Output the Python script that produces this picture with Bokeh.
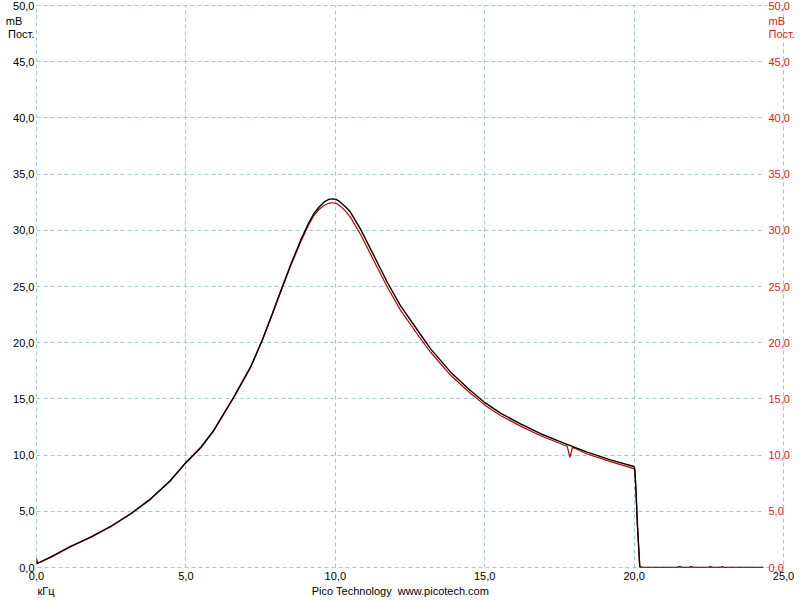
from bokeh.plotting import figure
from bokeh.models import LinearAxis, FixedTicker, BoxAnnotation, Range1d
from bokeh.embed import file_html
from bokeh.resources import INLINE

# ---- data ----
x_ticks = [0, 5, 10, 15, 20, 25]
x_tick_labels = ["0,0", "5,0", "10,0", "15,0", "20,0", "25,0"]
y_ticks = [0, 5, 10, 15, 20, 25, 30, 35, 40, 45, 50]
y_tick_labels = ["0,0", "5,0", "10,0", "15,0", "20,0", "25,0", "30,0", "35,0", "40,0", "45,0", "50,0"]

# unit captions under the top tick labels (placed as extra ticks of the value axes)
unit_ticks = [48.6, 47.5]
unit_labels = ["mB", "Пост."]
# caption row under the frequency axis
footer_ticks = [0.32, 12.18]
footer_labels = ["кГц", "Pico Technology\u00a0\u00a0www.picotech.com"]

# channel A (black): kHz / mV
freq_a = [0.0, 0.02, 0.1, 0.47, 1.14, 1.81, 2.48, 3.15, 3.82, 4.48, 5.0, 5.5, 5.93, 6.6,
          7.16, 7.55, 7.89, 8.22, 8.5, 8.84, 9.1, 9.28, 9.45, 9.62, 9.78, 9.9, 10.03,
          10.17, 10.34, 10.51, 10.84, 11.29, 11.74, 12.18, 12.8, 13.19, 13.86, 14.52,
          15.03, 15.53, 16.2, 16.87, 17.65, 18.43, 19.21, 19.99, 20.02, 20.06, 20.11,
          20.19, 20.3, 24.33]
level_a = [0.8, 0.38, 0.45, 0.92, 1.87, 2.7, 3.65, 4.78, 6.11, 7.74, 9.35, 10.7, 12.19, 15.15,
           17.82, 20.2, 22.57, 24.94, 26.9, 29.1, 30.6, 31.47, 32.05, 32.5, 32.75, 32.8, 32.75,
           32.5, 32.1, 31.6, 30.13, 27.76, 25.38, 23.3, 20.93, 19.45, 17.38, 15.75,
           14.62, 13.73, 12.78, 11.9, 11.06, 10.26, 9.58, 8.99, 8.8, 7.1, 3.9,
           0.05, 0.0, 0.0]

# channel B (red)
freq_b = [0.0, 0.02, 0.1, 0.47, 1.14, 1.81, 2.48, 3.15, 3.82, 4.48, 5.0, 5.5, 5.93, 6.6,
          7.16, 7.55, 7.89, 8.22, 8.5, 8.84, 9.1, 9.28, 9.45, 9.62, 9.78, 9.9, 10.03,
          10.17, 10.34, 10.51, 10.84, 11.29, 11.74, 12.18, 12.8, 13.19, 13.86, 14.52,
          15.03, 15.53, 16.2, 16.87, 17.65, 17.76, 17.85, 17.94, 18.43, 19.21, 19.99,
          20.02, 20.06, 20.11, 20.19, 20.3, 21.45, 21.52, 21.6, 21.85, 21.9, 21.98,
          22.5, 22.55, 22.62, 22.9, 22.95, 23.0, 24.33]
level_b = [0.7, 0.35, 0.45, 0.9, 1.85, 2.68, 3.62, 4.75, 6.08, 7.7, 9.3, 10.65, 12.15, 15.1,
           17.78, 20.15, 22.5, 24.85, 26.8, 28.95, 30.45, 31.3, 31.85, 32.2, 32.4, 32.45, 32.4,
           32.15, 31.7, 31.15, 29.65, 27.3, 24.95, 22.9, 20.55, 19.15, 17.1, 15.5,
           14.4, 13.52, 12.58, 11.72, 10.9, 10.8, 9.8, 10.7, 10.1, 9.42, 8.8,
           8.65, 7.0, 3.8, 0.05, 0.0, 0.0, 0.12, 0.0, 0.0, 0.1, 0.0,
           0.0, 0.1, 0.0, 0.0, 0.08, 0.0, 0.0]

# ---- styling ----
FONT = "Liberation Sans"
FS = "11px"
RED_LINE = "#c00000"
RED_TEXT = "#e01818"
GRID = "#9ec8d4"
NB = "\u00a0"

p = figure(width=800, height=600, x_range=Range1d(0, 25), y_range=Range1d(0, 50),
           output_backend="svg", toolbar_location=None,
           min_border_left=36, min_border_right=17, min_border_top=5, min_border_bottom=33,
           background_fill_color="white", border_fill_color="white",
           outline_line_color=GRID, outline_line_dash="4 3", outline_line_width=1)


def style_axis(ax, color, standoff):
    ax.axis_line_color = None
    ax.major_tick_line_color = None
    ax.minor_tick_line_color = None
    ax.major_tick_out = 0
    ax.major_tick_in = 0
    ax.minor_tick_out = 0
    ax.major_label_text_font = FONT
    ax.major_label_text_font_size = FS
    ax.major_label_text_color = color
    ax.major_label_standoff = standoff


# frequency axis
p.xaxis.ticker = FixedTicker(ticks=x_ticks)
p.xaxis.major_label_overrides = {float(t): l for t, l in zip(x_ticks, x_tick_labels)}
style_axis(p.xaxis[0], "#000000", 4)

# caption row (unit + credits) as a second axis below
cap = LinearAxis(ticker=FixedTicker(ticks=footer_ticks),
                 major_label_overrides={float(t): l for t, l in zip(footer_ticks, footer_labels)})
style_axis(cap, "#000000", 2)
p.add_layout(cap, "below")

# left value axis (black)
left_over = {float(t): l for t, l in zip(y_ticks, y_tick_labels)}
left_over[unit_ticks[0]] = unit_labels[0] + NB * 4
left_over[unit_ticks[1]] = unit_labels[1]
p.yaxis.ticker = FixedTicker(ticks=y_ticks + unit_ticks)
p.yaxis.major_label_overrides = left_over
style_axis(p.yaxis[0], "#000000", 2)

# right value axis (red), labels drawn just inside the frame
right_over = {float(t): l for t, l in zip(y_ticks, y_tick_labels)}
right_over.update({float(t): l for t, l in zip(unit_ticks, unit_labels)})
right = LinearAxis(ticker=FixedTicker(ticks=y_ticks + unit_ticks), major_label_overrides=right_over)
style_axis(right, RED_TEXT, -15)
p.add_layout(right, "right")

p.xgrid.ticker = FixedTicker(ticks=x_ticks)
p.ygrid.ticker = FixedTicker(ticks=y_ticks)
for g in (p.xgrid[0], p.ygrid[0]):
    g.grid_line_color = GRID
    g.grid_line_dash = "4 3"
    g.grid_line_width = 1

# white strip behind the right-hand labels (grid stops there)
p.add_layout(BoxAnnotation(left=24.36, right=24.96, fill_color="white", fill_alpha=1.0,
                           line_color=None, level="glyph"))

p.line(freq_b, level_b, line_color=RED_LINE, line_width=1.2)
p.line(freq_a, level_a, line_color="#000000", line_width=1.4)

open("out.html", "w").write(file_html(p, INLINE))
